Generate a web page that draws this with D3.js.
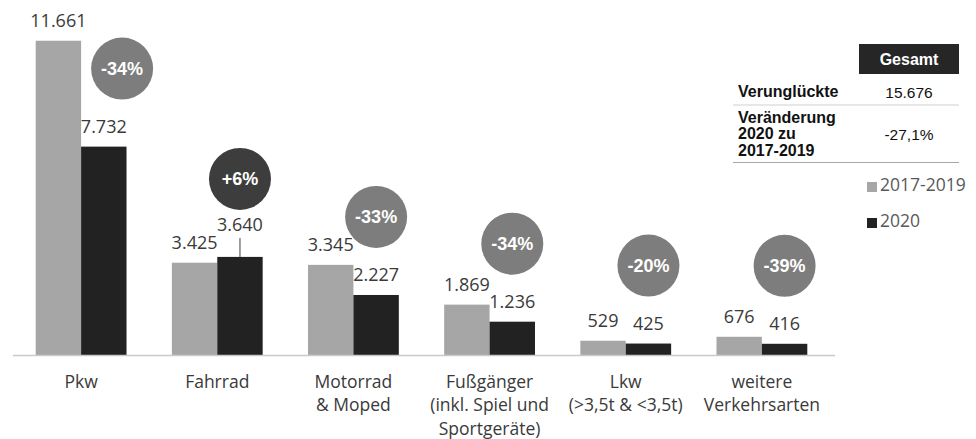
<!DOCTYPE html>
<html>
<head>
<meta charset="utf-8">
<script src="https://cdn.jsdelivr.net/npm/d3@7/dist/d3.min.js"></script>
<style>
  html, body { margin: 0; padding: 0; background: #fff; }
  #chart { width: 976px; height: 439px; }
</style>
</head>
<body>
<div id="chart"></div>
<script>
// Verunglückte nach Verkehrsart
const categories = [
  ["Pkw"],
  ["Fahrrad"],
  ["Motorrad", "& Moped"],
  ["Fußgänger", "(inkl. Spiel und", "Sportgeräte)"],
  ["Lkw", "(>3,5t & <3,5t)"],
  ["weitere", "Verkehrsarten"]
];
const series = ["2017-2019", "2020"];
const values2017_2019 = [11661, 3425, 3345, 1869, 529, 676];
const values2020 = [7732, 3640, 2227, 1236, 425, 416];
const changeLabels = ["-34%", "+6%", "-33%", "-34%", "-20%", "-39%"];

const tableHeader = "Gesamt";
const tableRows = [
  { label: ["Verunglückte"], value: "15.676" },
  { label: ["Veränderung", "2020 zu", "2017-2019"], value: "-27,1%" }
];

const width = 976;
const height = 439;
const colors = { "2017-2019": "#a6a6a6", "2020": "#222222" };
const labelFont = "'Open Sans', 'DejaVu Sans', sans-serif";
const tableFont = "'Liberation Sans', Arial, sans-serif";

const data = categories.map((c, i) => ({
  key: c.join(" "),
  lines: c,
  values: { "2017-2019": values2017_2019[i], "2020": values2020[i] },
  change: changeLabels[i]
}));

const svg = d3.select("#chart").append("svg")
  .attr("width", width)
  .attr("height", height);

/** Scales */
const x = d3.scaleBand()
  .domain(data.map(d => d.key))
  .range([13, 830])
  .paddingInner(0.333)
  .paddingOuter(0.1667);

const xSub = d3.scaleBand()
  .domain(series)
  .range([0, x.bandwidth()]);

const y = d3.scaleLinear()
  .domain([0, 12000])
  .range([355, 31.6]);

/** Bars */
const groups = svg.selectAll("g.cat")
  .data(data)
  .enter()
  .append("g")
  .attr("class", "cat")
  .attr("transform", d => `translate(${x(d.key)},0)`);

groups.selectAll("rect")
  .data(d => series.map(s => ({ s, v: d.values[s] })))
  .enter()
  .append("rect")
  .attr("x", d => xSub(d.s))
  .attr("y", d => y(d.v))
  .attr("width", xSub.bandwidth())
  .attr("height", d => y(0) - y(d.v))
  .attr("fill", d => colors[d.s]);

/** Baseline */
svg.append("line")
  .attr("x1", x.range()[0])
  .attr("x2", x.range()[1] + 5)
  .attr("y1", y(0) + 0.5)
  .attr("y2", y(0) + 0.5)
  .attr("stroke", "#c9c9c9")
  .attr("stroke-width", 1.5);

/** Value labels */
const gap = 14;
groups.each(function (d) {
  const g = d3.select(this);
  const a = d.values["2017-2019"];
  const b = d.values["2020"];
  const ya = y(a) - gap;
  let yb = y(b) - gap;
  let leader = false;
  // lift the 2020 label when it would collide with the neighbour label
  if (b > a && ya - yb < 18) {
    yb = y(b) - 26;
    leader = true;
  }
  const cxA = xSub("2017-2019") + xSub.bandwidth() / 2;
  const cxB = xSub("2020") + xSub.bandwidth() / 2;
  if (leader) {
    g.append("line")
      .attr("x1", cxB).attr("x2", cxB)
      .attr("y1", yb + 7).attr("y2", y(b))
      .attr("stroke", "#808080")
      .attr("stroke-width", 1.5);
  }
  [[a, cxA, ya], [b, cxB, yb]].forEach(([v, cx, ty]) => {
    g.append("text")
      .attr("x", cx)
      .attr("y", ty)
      .attr("text-anchor", "middle")
      .style("font-family", labelFont)
      .style("font-size", "18px")
      .style("fill", "#3a3a3a")
      .text(d3.format(",")(v).replace(/,/g, "."));
  });

  /** Change badge */
  const r = 31;
  const cy = y(b) - 78;
  let cx = cxB;
  const grayRight = xSub("2017-2019") + xSub.bandwidth();
  if (y(a) < cy + r) cx = Math.max(cx, grayRight + r + 10);
  const badge = g.append("g").attr("transform", `translate(${cx},${cy})`);
  badge.append("circle")
    .attr("r", r)
    .attr("fill", d.change.startsWith("+") ? "#3d3d3d" : "#7d7d7d");
  badge.append("text")
    .attr("text-anchor", "middle")
    .attr("dy", "0.36em")
    .style("font-family", tableFont)
    .style("font-weight", "bold")
    .style("font-size", "18px")
    .style("fill", "#fff")
    .text(d.change);
});

/** Category labels */
groups.append("text")
  .attr("text-anchor", "middle")
  .attr("x", x.bandwidth() / 2)
  .attr("y", 387.5)
  .style("font-family", labelFont)
  .style("font-size", "17.5px")
  .style("fill", "#3a3a3a")
  .selectAll("tspan")
  .data(d => d.lines)
  .enter()
  .append("tspan")
  .attr("x", x.bandwidth() / 2)
  .attr("dy", (_, i) => (i === 0 ? 0 : 23.5))
  .text(t => t);

/** Summary table */
const table = svg.append("g").attr("class", "table");
const colLabelX = 738;
const colValueX = 909;

table.append("rect")
  .attr("x", 859).attr("y", 44)
  .attr("width", 100).attr("height", 30)
  .attr("fill", "#262626");
table.append("text")
  .attr("x", colValueX).attr("y", 64.5)
  .attr("text-anchor", "middle")
  .style("font-family", tableFont)
  .style("font-weight", "bold")
  .style("font-size", "16px")
  .style("fill", "#fff")
  .text(tableHeader);

const rowBase = [97, 122.5];
const rowLines = [105, 162.5];
const lineHeight = 16.5;
tableRows.forEach((row, i) => {
  table.append("text")
    .attr("x", colLabelX).attr("y", rowBase[i])
    .style("font-family", tableFont)
    .style("font-weight", "bold")
    .style("font-size", "16px")
    .style("fill", "#111")
    .selectAll("tspan")
    .data(row.label)
    .enter()
    .append("tspan")
    .attr("x", colLabelX)
    .attr("dy", (_, j) => (j === 0 ? 0 : lineHeight))
    .text(t => t);
  table.append("text")
    .attr("x", colValueX)
    .attr("y", rowBase[i] + (row.label.length - 1) * lineHeight / 2 + 1)
    .attr("text-anchor", "middle")
    .style("font-family", tableFont)
    .style("font-size", "15.5px")
    .style("fill", "#111")
    .text(row.value);
  table.append("line")
    .attr("x1", 733).attr("x2", 959)
    .attr("y1", rowLines[i]).attr("y2", rowLines[i])
    .attr("stroke", i === 0 ? "#cfcfcf" : "#a8a8a8")
    .attr("stroke-width", 1.2);
});

/** Legend */
const legend = svg.append("g")
  .selectAll("g")
  .data(series)
  .enter()
  .append("g")
  .attr("transform", (_, i) => `translate(867, ${182 + i * 36})`);

legend.append("rect")
  .attr("width", 10).attr("height", 10)
  .attr("fill", d => colors[d]);
legend.append("text")
  .attr("x", 13).attr("y", 8.5)
  .style("font-family", labelFont)
  .style("font-size", "17.5px")
  .style("fill", "#595959")
  .text(d => d);
</script>
</body>
</html>
